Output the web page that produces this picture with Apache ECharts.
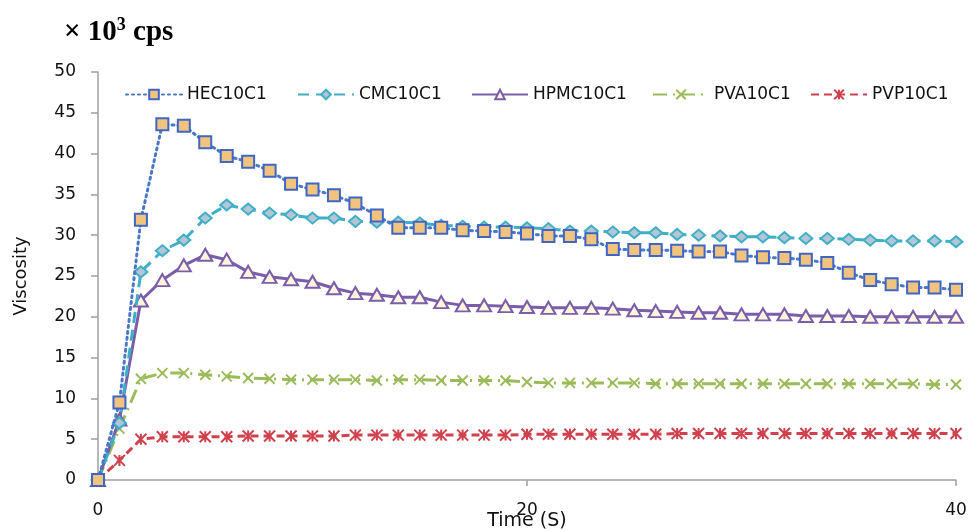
<!DOCTYPE html>
<html>
<head>
<meta charset="utf-8">
<script src="https://cdn.jsdelivr.net/npm/echarts@6/dist/echarts.min.js"></script>
<style>
html,body{margin:0;padding:0;background:#fff;}
#c{width:970px;height:531px;}
</style>
</head>
<body>
<div id="c"></div>
<script>
const times = [0,1,2,3,4,5,6,7,8,9,10,11,12,13,14,15,16,17,18,19,20,21,22,23,24,25,26,27,28,29,30,31,32,33,34,35,36,37,38,39,40];
const hec = [0,9.5,31.9,43.6,43.4,41.4,39.7,39.0,37.9,36.3,35.6,34.9,33.9,32.4,30.9,30.9,30.9,30.6,30.5,30.4,30.2,29.9,29.9,29.5,28.3,28.2,28.2,28.1,28.0,28.0,27.5,27.3,27.2,27.0,26.6,25.4,24.5,24.0,23.6,23.6,23.3];
const cmc = [0,7.0,25.5,28.1,29.4,32.1,33.7,33.2,32.7,32.5,32.1,32.1,31.7,31.6,31.6,31.5,31.2,31.1,31.0,31.0,30.9,30.8,30.5,30.5,30.4,30.3,30.3,30.1,30.0,29.9,29.8,29.8,29.7,29.6,29.6,29.5,29.4,29.3,29.3,29.3,29.2];
const hpmc = [0,7.4,22.0,24.5,26.3,27.6,27.0,25.5,24.9,24.6,24.3,23.5,22.9,22.7,22.4,22.4,21.8,21.4,21.4,21.3,21.2,21.1,21.1,21.1,21.0,20.8,20.7,20.6,20.5,20.5,20.3,20.3,20.3,20.1,20.1,20.1,20.0,20.0,20.0,20.0,20.0];
const pva = [0,6.3,12.4,13.1,13.1,12.9,12.7,12.5,12.4,12.3,12.3,12.3,12.3,12.2,12.3,12.3,12.2,12.2,12.2,12.2,12.0,11.9,11.9,11.9,11.9,11.9,11.8,11.8,11.8,11.8,11.8,11.8,11.8,11.8,11.8,11.8,11.8,11.8,11.8,11.7,11.7];
const pvp = [0,2.4,5.0,5.3,5.3,5.3,5.3,5.4,5.4,5.4,5.4,5.4,5.5,5.5,5.5,5.5,5.5,5.5,5.5,5.5,5.6,5.6,5.6,5.6,5.6,5.6,5.6,5.7,5.7,5.7,5.7,5.7,5.7,5.7,5.7,5.7,5.7,5.7,5.7,5.7,5.7];
const seriesNames = ['HEC10C1','CMC10C1','HPMC10C1','PVA10C1','PVP10C1'];
const xTicks = [0,20,40];
const yTicks = [0,5,10,15,20,25,30,35,40,45,50];

function pairs(vals){ return times.map((t,i)=>[t, vals[i]]); }

const chart = echarts.init(document.getElementById('c'), null, {renderer:'canvas'});
const sans = 'DejaVu Sans';
const legendLefts = [120, 292, 466, 647, 805];
const legends = seriesNames.map((n, i) => ({
  left: legendLefts[i], top: 81,
  itemWidth: 56, itemHeight: 12,
  textStyle: {fontFamily: sans, fontSize: 17, color: '#111'},
  data: [n]
}));
chart.setOption({
  backgroundColor:'#ffffff',
  animation:false,
  title:{
    text:'{a|× 10}{b|3}{a| cps}',
    left:59, top:11,
    textStyle:{
      rich:{
        a:{fontFamily:'Liberation Serif', fontWeight:'bold', fontSize:29, color:'#000'},
        b:{fontFamily:'Liberation Serif', fontWeight:'bold', fontSize:18, color:'#000', padding:[0,0,15,0]}
      }
    }
  },
  legend: legends,
  grid:{left:98, right:14, top:72, bottom:51, containLabel:false, outerBoundsMode:'none'},
  xAxis:{
    type:'value', min:xTicks[0], max:xTicks[xTicks.length-1], interval:20,
    name:'Time (S)', nameLocation:'middle', nameGap:32, nameMoveOverlap:false,
    nameTextStyle:{fontFamily:sans, fontSize:19, color:'#111'},
    axisLine:{show:true, lineStyle:{color:'#a0a0a0', width:1.5}},
    axisTick:{show:true, length:6, lineStyle:{color:'#a0a0a0', width:1.5}},
    axisLabel:{fontFamily:sans, fontSize:17, color:'#111', margin:22},
    splitLine:{show:false}
  },
  yAxis:{
    type:'value', min:yTicks[0], max:yTicks[yTicks.length-1], interval:5,
    name:'Viscosity', nameLocation:'middle', nameGap:68, nameRotate:90, nameMoveOverlap:false,
    nameTextStyle:{fontFamily:sans, fontSize:18, color:'#111'},
    axisLine:{show:true, lineStyle:{color:'#a0a0a0', width:1.5}},
    axisTick:{show:true, length:7, lineStyle:{color:'#a0a0a0', width:1.5}},
    axisLabel:{fontFamily:sans, fontSize:17, color:'#111', margin:22},
    splitLine:{show:false}
  },
  series:[
    {
      name:seriesNames[0], type:'line', data:pairs(hec),
      symbol:'rect', symbolSize:12,
      lineStyle:{color:'#4a78c8', width:3, type:[2,4], cap:'round'},
      itemStyle:{color:'#f0c47e', borderColor:'#3f66c4', borderWidth:2},
      z:5
    },
    {
      name:seriesNames[1], type:'line', data:pairs(cmc),
      symbol:'diamond', symbolSize:[13,11],
      lineStyle:{color:'#3fafc6', width:3, type:[11,7]},
      itemStyle:{color:'#b4c6d6', borderColor:'#3fafc6', borderWidth:2},
      z:4
    },
    {
      name:seriesNames[2], type:'line', data:pairs(hpmc),
      symbol:'triangle', symbolSize:[14,12],
      lineStyle:{color:'#7b5eaa', width:3},
      itemStyle:{color:'#fdf6dc', borderColor:'#7b5eaa', borderWidth:2},
      z:3
    },
    {
      name:seriesNames[3], type:'line', data:pairs(pva),
      symbol:'path://M0,0L10,10M10,0L0,10', symbolSize:10, symbolKeepAspect:true,
      lineStyle:{color:'#9bbb59', width:3, type:[14,6,2,6]},
      itemStyle:{color:'#9bbb59', borderColor:'#9bbb59', borderWidth:2},
      z:2
    },
    {
      name:seriesNames[4], type:'line', data:pairs(pvp),
      symbol:'path://M0,0L10,10M10,0L0,10M5,0L5,10', symbolSize:11, symbolKeepAspect:true,
      lineStyle:{color:'#d0414e', width:3, type:[8,5]},
      itemStyle:{color:'#d0414e', borderColor:'#d0414e', borderWidth:2},
      z:1
    }
  ]
});
</script>
</body>
</html>
